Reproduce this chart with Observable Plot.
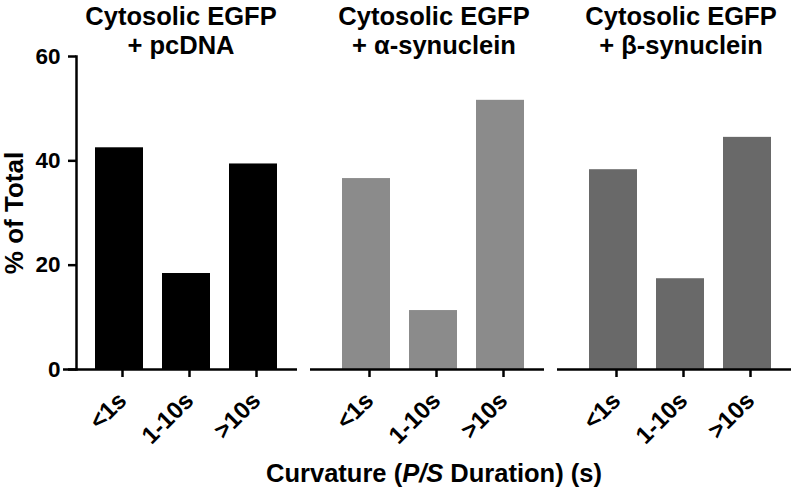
<!DOCTYPE html>
<html>
<head>
<meta charset="utf-8">
<script src="https://cdn.jsdelivr.net/npm/d3@7"></script>
<script src="https://cdn.jsdelivr.net/npm/@observablehq/plot@0.6"></script>
<style>
  html, body { margin: 0; padding: 0; background: #fff; }
  #wrap { width: 800px; font-family: "Liberation Sans", Arial, sans-serif; }
  #xlabel {
    box-sizing: border-box; width: 800px; height: 40px; line-height: 38px; padding-top: 2px;
    padding-left: 76px; padding-right: 8px; text-align: center;
    font-weight: bold; font-size: 25.5px; color: #000; white-space: nowrap;
  }
</style>
</head>
<body>
<div id="wrap">
  <div id="chart"></div>
  <div id="xlabel">Curvature (<i>P/S</i> Duration) (s)</div>
</div>
<script>
const groups = ["Cytosolic EGFP\n+ pcDNA", "Cytosolic EGFP\n+ α-synuclein", "Cytosolic EGFP\n+ β-synuclein"];
const durations = ["<1s", "1-10s", ">10s"];
const pcdnaValues = [42.5, 18.4, 39.4];
const alphaValues = [36.6, 11.3, 51.6];
const betaValues = [38.3, 17.4, 44.5];
const groupColors = ["#000000", "#8b8b8b", "#696969"];
const yTicks = [0, 20, 40, 60];
const yLabel = "% of Total";

const series = [pcdnaValues, alphaValues, betaValues];
const data = groups.flatMap((g, gi) =>
  durations.map((d, di) => ({group: g, duration: d, value: series[gi][di]}))
);

const titleStyle = {fx: d => d, frameAnchor: "top", lineAnchor: "bottom", textAnchor: "middle",
  dy: -3, fontSize: 25.5, fontWeight: "bold", lineHeight: 1.1, fill: "#000"};

const plot = Plot.plot({
  width: 800,
  height: 452,
  marginLeft: 76,
  marginRight: 8,
  marginTop: 56,
  marginBottom: 83,
  style: {fontFamily: "'Liberation Sans', Arial, sans-serif", fontWeight: "bold", color: "#000", background: "#fff"},
  fx: {domain: groups, paddingInner: 0.104, paddingOuter: 0, axis: null},
  x: {domain: durations, padding: 0.28},
  y: {domain: [0, 60]},
  color: {domain: groups, range: groupColors},
  marks: [
    Plot.barY(data, {fx: "group", x: "duration", y: "value", fill: "group"}),
    Plot.ruleY([0], {insetLeft: -13, stroke: "#000", strokeWidth: 2.5}),
    Plot.frame({anchor: "left", facetAnchor: "left", stroke: "#000", strokeWidth: 2.5}),
    Plot.axisY({ticks: yTicks, tickSize: 8, tickPadding: 8, fontSize: 22.5, strokeWidth: 2.5, label: null}),
    Plot.text([yLabel], {frameAnchor: "left", facetAnchor: "left", textAnchor: "middle", rotate: -90, dx: -62, fontSize: 26, fontWeight: "bold"}),
    Plot.axisX({tickSize: 8, tickPadding: 19, dx: 3, tickRotate: -45, fontSize: 24, strokeWidth: 2.5, label: null}),
    Plot.text(groups.slice(0, 1), {...titleStyle, text: d => d, dx: -6}),
    Plot.text(groups.slice(1), {...titleStyle, text: d => d})
  ]
});
document.getElementById("chart").appendChild(plot);
</script>
</body>
</html>
